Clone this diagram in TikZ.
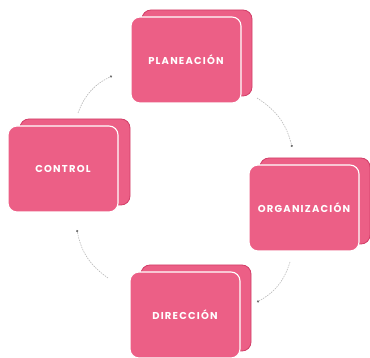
\documentclass[tikz,border=0pt]{standalone}
\usepackage{fontspec}
\setmainfont{Poppins}
\usetikzlibrary{arrows.meta}
\definecolor{boxpink}{HTML}{EC5F86}
\definecolor{boxdark}{HTML}{D23E68}
\definecolor{arcgray}{HTML}{B8B8B8}
\definecolor{tipgray}{HTML}{707070}
\tikzset{
  backbox/.style={draw=boxdark, line width=0.8pt, fill=boxpink, rounded corners=9pt,
    minimum width=110pt, minimum height=86pt, inner sep=0pt},
  frontbox/.style={draw=white, line width=1.1pt, fill=boxpink, rounded corners=9pt,
    minimum width=110pt, minimum height=86pt, inner sep=0pt, text=white,
    font=\fontsize{10pt}{11pt}\selectfont\bfseries\addfontfeature{LetterSpace=12}},
  cyc/.style={arcgray, line width=0.6pt, dash pattern=on 1.5pt off 1pt, bend left=22,
    -{Circle[length=2.2pt, color=tipgray]}}
}
\begin{document}
\begin{tikzpicture}[x=1pt, y=-1pt]
\useasboundingbox (0,0) rectangle (370,358);
% PLANEACION
\node[backbox] (planB) at (197,53) {};
\node[frontbox] (plan) at (186,60) {PLANEACIÓN};
% CONTROL
\node[backbox] (ctrlB) at (75,162) {};
\node[frontbox] (ctrl) at (63,169) {CONTROL};
% ORGANIZACION
\node[backbox] (orgB) at (315,201) {};
\node[frontbox] (org) at (304,208) {ORGANIZACIÓN};
% DIRECCION
\node[backbox] (dirB) at (196,308) {};
\node[frontbox] (dir) at (185,315) {DIRECCIÓN};
% arc end points
\coordinate (a1s) at (78,113);  \coordinate (a1e) at (112,76);
\coordinate (a2s) at (257,98);  \coordinate (a2e) at (292,147);
\coordinate (a3s) at (290,262); \coordinate (a3e) at (257,302);
\coordinate (a4s) at (108,278); \coordinate (a4e) at (77,230);
\draw[cyc] (a1s) to (a1e);
\draw[cyc] (a2s) to (a2e);
\draw[cyc] (a3s) to (a3e);
\draw[cyc] (a4s) to (a4e);
\end{tikzpicture}
\end{document}
